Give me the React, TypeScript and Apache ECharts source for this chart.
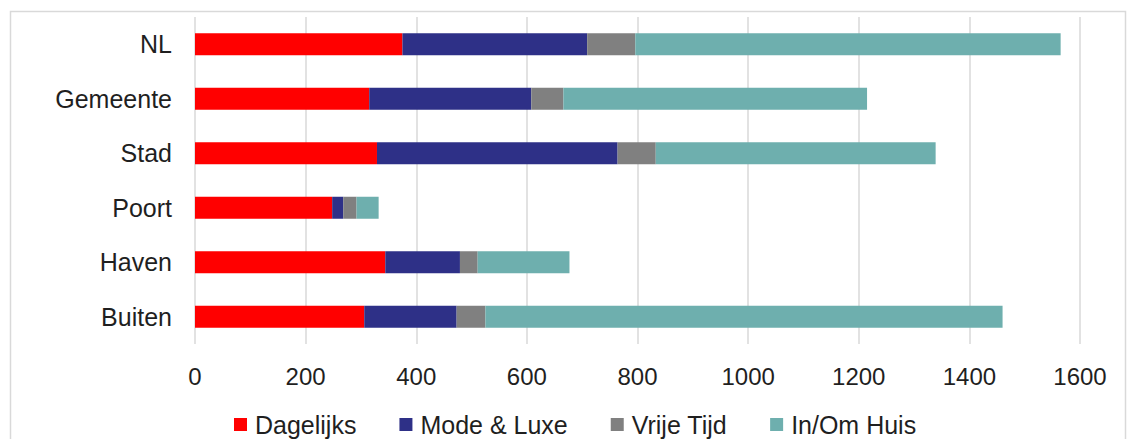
import React, { useEffect, useRef } from "react";
import * as echarts from "echarts";

const categories = ["NL", "Gemeente", "Stad", "Poort", "Haven", "Buiten"];
const seriesNames = ["Dagelijks", "Mode & Luxe", "Vrije Tijd", "In/Om Huis"];
const dagelijks = [375, 315, 329, 248, 344, 306];
const modeLuxe = [334, 293, 435, 20, 135, 167];
const vrijeTijd = [87, 58, 69, 24, 32, 52];
const inOmHuis = [769, 549, 506, 40, 166, 935];
const colors = ["#ff0000", "#2e3087", "#808080", "#6eafae"];
const xTicks = { min: 0, max: 1600, interval: 200 };

export default function App() {
  const ref = useRef<HTMLDivElement>(null);
  useEffect(() => {
    if (!ref.current) return;
    const chart = echarts.init(ref.current, undefined, { renderer: "svg" });
    const values = [dagelijks, modeLuxe, vrijeTijd, inOmHuis];
    const font = "Liberation Sans, Arial, sans-serif";
    chart.setOption({
      animation: false,
      backgroundColor: "#ffffff",
      graphic: [
        {
          type: "rect",
          shape: { x: 10.5, y: 11.5, width: 1115, height: 440 },
          style: { fill: "none", stroke: "#d9d9d9", lineWidth: 1.5 },
          silent: true,
        },
      ],
      grid: { left: 195, right: 49, top: 17, bottom: 95, containLabel: false },
      legend: {
        data: seriesNames,
        left: 229,
        top: 407,
        icon: "rect",
        itemWidth: 13,
        itemHeight: 13,
        itemGap: 43,
        textStyle: {
          fontFamily: font,
          fontSize: 25,
          color: "#1f1f1f",
          padding: [0, 0, 0, 3],
        },
      },
      xAxis: {
        type: "value",
        min: xTicks.min,
        max: xTicks.max,
        interval: xTicks.interval,
        axisLine: { show: false },
        axisTick: { show: false },
        axisLabel: {
          fontFamily: font,
          fontSize: 24,
          color: "#1f1f1f",
          margin: 20,
          formatter: (v: number) => String(v),
        },
        splitLine: { show: true, lineStyle: { color: "#d9d9d9", width: 1.5 } },
      },
      yAxis: {
        type: "category",
        data: categories,
        inverse: true,
        axisLine: { show: false },
        axisTick: { show: false },
        axisLabel: {
          fontFamily: font,
          fontSize: 25,
          color: "#1f1f1f",
          margin: 23,
        },
      },
      series: seriesNames.map((name, i) => ({
        name,
        type: "bar",
        stack: "total",
        barWidth: 22,
        data: values[i],
        itemStyle: { color: colors[i] },
      })),
    });
    return () => chart.dispose();
  }, []);
  return (
    <div
      ref={ref}
      style={{ position: "absolute", left: 0, top: 0, width: 1129, height: 439 }}
    />
  );
}
